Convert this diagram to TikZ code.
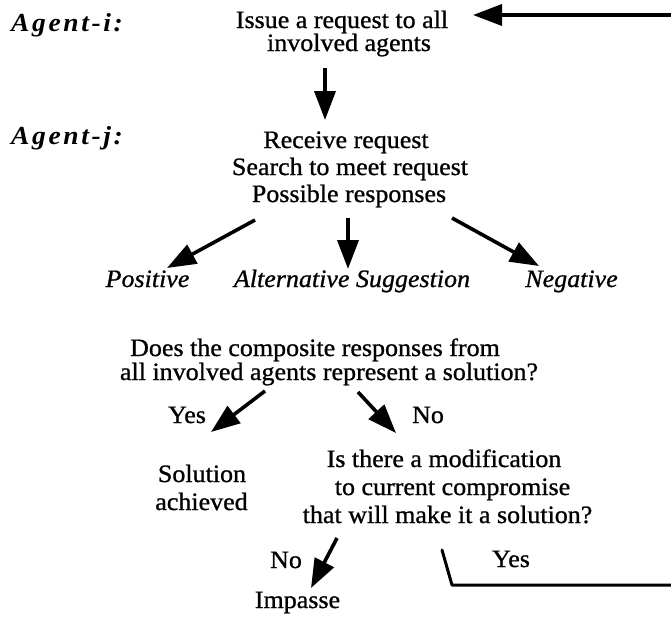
\documentclass[tikz,border=0pt]{standalone}
\usepackage{fontspec}
\setmainfont{Liberation Serif}[FakeStretch=1.04,FakeBold=0.9]
\newfontfamily\agentfont{Liberation Serif}[FakeStretch=1.06,LetterSpace=10]
\usetikzlibrary{arrows.meta}
\begin{document}
\begin{tikzpicture}[x=1pt,y=-1pt,
  txt/.style={inner sep=0pt,anchor=base,font=\fontsize{25}{30}\selectfont},
  itxt/.style={txt,font=\fontsize{25}{30}\selectfont\itshape},
  agent/.style={inner sep=0pt,anchor=base west,font=\fontsize{26}{31}\agentfont\bfseries\itshape},
  arr/.style={line width=3.6pt,-{Triangle[length=29pt,width=21pt]}},
  link/.style={line width=3pt,line cap=round,line join=round}]
\useasboundingbox (0,0) rectangle (671,616);

% row labels
\node[agent] (agi) at (11,31) {Agent-i:};
\node[agent] (agj) at (11,144) {Agent-j:};

% request issued by agent i
\node[txt] (iss1) at (342,28) {Issue a request to all};
\node[txt] (iss2) at (349,51) {involved agents};

% handling by agent j
\node[txt] (rcv) at (346,148) {Receive request};
\node[txt] (srch) at (350,175) {Search to meet request};
\node[txt] (poss) at (349,202) {Possible responses};

% possible responses
\node[itxt] (pos) at (147.5,287) {Positive};
\node[itxt] (alt) at (352,287) {Alternative Suggestion};
\node[itxt] (neg) at (571.5,287) {Negative};

% first decision
\node[txt] (q1a) at (315,356) {Does the composite responses from};
\node[txt] (q1b) at (329,380) {all involved agents represent a solution?};
\node[txt] (yes1) at (187,423) {Yes};
\node[txt] (no1) at (428,423) {No};

\node[txt] (sol1) at (202,482) {Solution};
\node[txt] (sol2) at (201.5,510) {achieved};

% second decision
\node[txt] (q2a) at (444,467) {Is there a modification};
\node[txt] (q2b) at (452.5,495) {to current compromise};
\node[txt] (q2c) at (447.5,523) {that will make it a solution?};
\node[txt] (no2) at (286,568) {No};
\node[txt] (yes2) at (511,567) {Yes};
\node[txt] (imp) at (297.5,608) {Impasse};

% connector end points
\coordinate (loopTop) at (671,15);
\coordinate (issTip) at (473,15);
\coordinate (dnS) at (325,68);
\coordinate (dnE) at (325,120);
\coordinate (posS) at (255,220);
\coordinate (posE) at (167,268);
\coordinate (altS) at (348,218);
\coordinate (altE) at (348,269);
\coordinate (negS) at (452,218);
\coordinate (negE) at (539,266);
\coordinate (yesS) at (265,391);
\coordinate (yesE) at (211,432);
\coordinate (noS) at (358,392);
\coordinate (noE) at (396,433);
\coordinate (impS) at (337,538);
\coordinate (impE) at (311,588);
\coordinate (retS) at (442,550);
\coordinate (retK) at (452,585);
\coordinate (retE) at (671,585);

\draw[arr] (loopTop) -- (issTip);
\draw[arr] (dnS) -- (dnE);
\draw[arr] (posS) -- (posE);
\draw[arr] (altS) -- (altE);
\draw[arr] (negS) -- (negE);
\draw[arr] (yesS) -- (yesE);
\draw[arr] (noS) -- (noE);
\draw[arr] (impS) -- (impE);
\draw[link] (retS) -- (retK) -- (retE);
\end{tikzpicture}
\end{document}
